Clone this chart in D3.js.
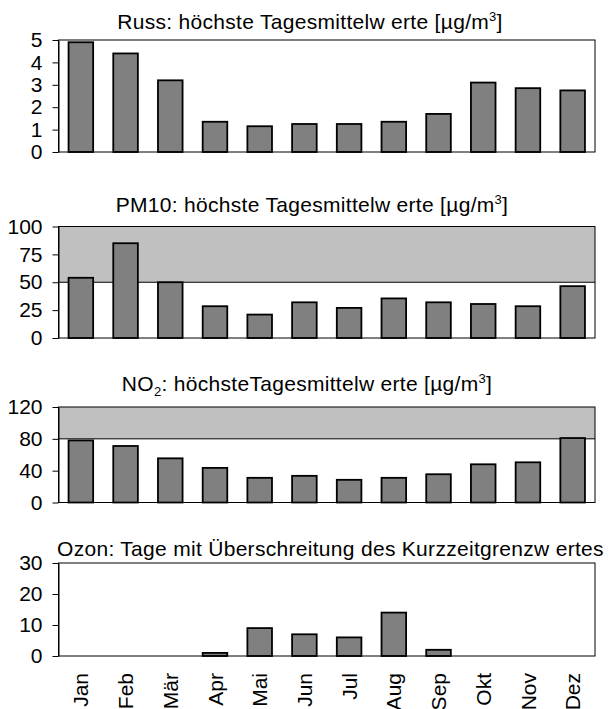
<!DOCTYPE html>
<html>
<head>
<meta charset="utf-8">
<script src="https://cdn.jsdelivr.net/npm/d3@7"></script>
<style>
  body { margin: 0; background: #fff; }
  text { font-family: "Liberation Sans", Arial, sans-serif; fill: #000; }
</style>
</head>
<body>
<div id="chart"></div>
<script>
const months = ["Jan", "Feb", "Mär", "Apr", "Mai", "Jun", "Jul", "Aug", "Sep", "Okt", "Nov", "Dez"];

const russ = [4.9, 4.4, 3.2, 1.35, 1.15, 1.25, 1.25, 1.35, 1.7, 3.1, 2.85, 2.75];
const pm10 = [54, 85, 50, 28.5, 21, 32, 27, 35.5, 32, 30.5, 28.5, 46.5];
const no2 = [78, 71, 55.5, 43.5, 31, 33.5, 28.5, 31, 35.5, 48, 50.5, 81];
const ozon = [0, 0, 0, 1, 9, 7, 6, 14, 2, 0, 0, 0];

const russTicks = [0, 1, 2, 3, 4, 5];
const pm10Ticks = [0, 25, 50, 75, 100];
const no2Ticks = [0, 40, 80, 120];
const ozonTicks = [0, 10, 20, 30];

const pm10Limit = 50;
const no2Limit = 80;

// title pieces: [text, kind] where kind is "" / "sub" / "sup"
const russTitle = [["Russ: höchste Tagesmittelw erte [µg/m", ""], ["3", "sup"], ["]", ""]];
const pm10Title = [["PM10: höchste Tagesmittelw erte [µg/m", ""], ["3", "sup"], ["]", ""]];
const no2Title = [["NO", ""], ["2", "sub"], [": höchsteTagesmittelw erte [µg/m", ""], ["3", "sup"], ["]", ""]];
const ozonTitle = [["Ozon: Tage mit Überschreitung des Kurzzeitgrenzw ertes", ""]];

const width = 611, height = 709;
const left = 58.5, right = 595;

const panels = [
    { title: russTitle, values: russ, ticks: russTicks, limit: null, top: 40, bottom: 152, tx: 310, ty: 28.5, anchor: "middle" },
    { title: pm10Title, values: pm10, ticks: pm10Ticks, limit: pm10Limit, top: 226.5, bottom: 338, tx: 312, ty: 212, anchor: "middle" },
    { title: no2Title, values: no2, ticks: no2Ticks, limit: no2Limit, top: 407, bottom: 502.5, tx: 307, ty: 391, anchor: "middle" },
    { title: ozonTitle, values: ozon, ticks: ozonTicks, limit: null, top: 563, bottom: 656, tx: 57, ty: 556, anchor: "start" }
];

const svg = d3.select("#chart")
    .append("svg")
    .attr("width", width)
    .attr("height", height);

const x = d3.scaleBand()
    .domain(months)
    .range([left, right])
    .paddingInner(0.45)
    .paddingOuter(0.225);

panels.forEach((p, i) => {
    const g = svg.append("g");

    const y = d3.scaleLinear()
        .domain([0, d3.max(p.ticks)])
        .range([p.bottom, p.top]);

    // grey zone above the limit value
    if (p.limit !== null) {
        g.append("rect")
            .attr("x", left)
            .attr("y", p.top)
            .attr("width", right - left)
            .attr("height", y(p.limit) - p.top)
            .attr("fill", "#c0c0c0");
        g.append("line")
            .attr("x1", left).attr("x2", right)
            .attr("y1", y(p.limit)).attr("y2", y(p.limit))
            .attr("stroke", "#000")
            .attr("stroke-width", 1);
    }

    g.append("g")
        .selectAll("rect")
        .data(months.map((m, j) => ({ month: m, value: p.values[j] })).filter(d => d.value > 0))
        .enter()
        .append("rect")
        .attr("x", d => x(d.month))
        .attr("y", d => y(d.value))
        .attr("width", x.bandwidth())
        .attr("height", d => p.bottom - y(d.value))
        .attr("fill", "#808080")
        .attr("stroke", "#000")
        .attr("stroke-width", 1.8);

    // plot frame
    g.append("rect")
        .attr("x", left)
        .attr("y", p.top)
        .attr("width", right - left)
        .attr("height", p.bottom - p.top)
        .attr("fill", "none")
        .attr("stroke", "#000")
        .attr("stroke-width", 1);

    const yAxis = g.append("g")
        .attr("transform", `translate(${left},0)`)
        .call(d3.axisLeft(y).tickValues(p.ticks).tickFormat(d3.format("d"))
            .tickSize(6).tickSizeOuter(0).tickPadding(10));
    yAxis.select(".domain").attr("stroke", "#000");
    yAxis.selectAll("line").attr("stroke", "#000");
    yAxis.selectAll("text")
        .style("font-size", "21px")
        .style("font-family", "'Liberation Sans', Arial, sans-serif");

    if (i === panels.length - 1) {
        const xAxis = g.append("g")
            .attr("transform", `translate(0,${p.bottom})`)
            .call(d3.axisBottom(x).tickSize(0).tickPadding(0));
        xAxis.select(".domain").remove();
        xAxis.selectAll("text")
            .attr("transform", "rotate(-90)")
            .attr("text-anchor", "end")
            .attr("x", -17)
            .attr("y", 0)
            .attr("dy", "0.36em")
            .style("font-size", "21px")
            .style("font-family", "'Liberation Sans', Arial, sans-serif");
    }

    const t = g.append("text")
        .attr("x", p.tx)
        .attr("y", p.ty)
        .attr("text-anchor", p.anchor)
        .style("font-size", "21px")
        .style("letter-spacing", "0.3px");
    p.title.forEach(([s, kind], k) => {
        const span = t.append("tspan").text(s);
        const prev = k > 0 ? p.title[k - 1][1] : "";
        let dy = 0;
        if (prev === "sup") dy += 8;
        if (prev === "sub") dy -= 5;
        if (kind === "sup") { span.style("font-size", "13px"); dy -= 8; }
        if (kind === "sub") { span.style("font-size", "13px"); dy += 5; }
        if (dy !== 0) span.attr("dy", dy);
    });
});
</script>
</body>
</html>
